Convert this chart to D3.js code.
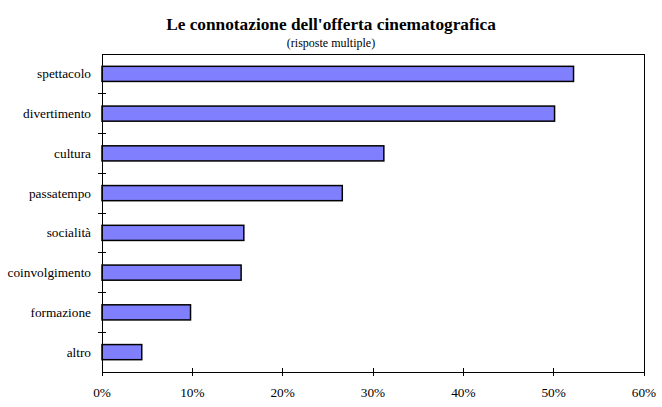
<!DOCTYPE html>
<html><head><meta charset="utf-8">
<script src="https://cdn.jsdelivr.net/npm/d3@7/dist/d3.min.js"></script>
<style>html,body{margin:0;padding:0;background:#fff}svg{display:block}</style>
</head><body>
<svg id="c" width="662" height="407"></svg>
<script>
const categories = ["spettacolo","divertimento","cultura","passatempo","socialità","coinvolgimento","formazione","altro"];
const values = [52.2, 50.1, 31.2, 26.6, 15.7, 15.4, 9.8, 4.4];
const xTicks = [0,10,20,30,40,50,60];
const title = "Le connotazione dell'offerta cinematografica";
const subtitle = "(risposte multiple)";

const svg = d3.select("#c");
const L = 102, R = 644, T = 54, B = 372;
const x = d3.scaleLinear().domain([0,60]).range([L,R]);
const y = d3.scaleBand().domain(categories).range([T,B]).paddingInner(0.62).paddingOuter(0.31);
const font = "Liberation Serif, Times New Roman, serif";

svg.append("text").attr("x",331).attr("y",30).attr("text-anchor","middle")
  .attr("font-family",font).attr("font-size","17.3px").attr("font-weight","bold").text(title);
svg.append("text").attr("x",331).attr("y",47).attr("text-anchor","middle")
  .attr("font-family",font).attr("font-size","12px").text(subtitle);

// plot frame top and right
svg.append("path").attr("d",`M${L},${T}H${R}V${B}`).attr("fill","none").attr("stroke","#000").attr("stroke-width",1).attr("shape-rendering","crispEdges");

// bars
svg.selectAll("rect.bar").data(values).join("rect").attr("class","bar")
  .attr("x",x(0)).attr("y",(d,i)=>y(categories[i]))
  .attr("width",d=>x(d)-x(0)).attr("height",y.bandwidth())
  .attr("fill","#8080ff").attr("stroke","#000").attr("stroke-width",1.5);

// x axis
const xAxis = svg.append("g").attr("transform",`translate(0,${B})`);
xAxis.append("line").attr("x1",L).attr("x2",R).attr("stroke","#000").attr("shape-rendering","crispEdges");
xAxis.selectAll("line.t").data(xTicks).join("line").attr("class","t")
  .attr("x1",d=>x(d)).attr("x2",d=>x(d)).attr("y1",-4).attr("y2",4).attr("stroke","#000").attr("shape-rendering","crispEdges");
xAxis.selectAll("text").data(xTicks).join("text")
  .attr("x",d=>x(d)).attr("y",25).attr("text-anchor","middle")
  .attr("font-family",font).attr("font-size","13.3px").text(d=>d+"%");

// y axis
const yAxis = svg.append("g");
yAxis.append("line").attr("x1",L).attr("x2",L).attr("y1",T).attr("y2",B).attr("stroke","#000").attr("shape-rendering","crispEdges");
yAxis.selectAll("line.t").data(d3.range(1,categories.length)).join("line").attr("class","t")
  .attr("x1",L-4).attr("x2",L+4)
  .attr("y1",i=>y(categories[i])-y.step()*y.paddingInner()/2)
  .attr("y2",i=>y(categories[i])-y.step()*y.paddingInner()/2)
  .attr("stroke","#000").attr("shape-rendering","crispEdges");
yAxis.selectAll("text").data(categories).join("text")
  .attr("x",91).attr("y",d=>y(d)+y.bandwidth()/2+4.5).attr("text-anchor","end")
  .attr("font-family",font).attr("font-size","13.3px").text(d=>d);
</script>
</body></html>
